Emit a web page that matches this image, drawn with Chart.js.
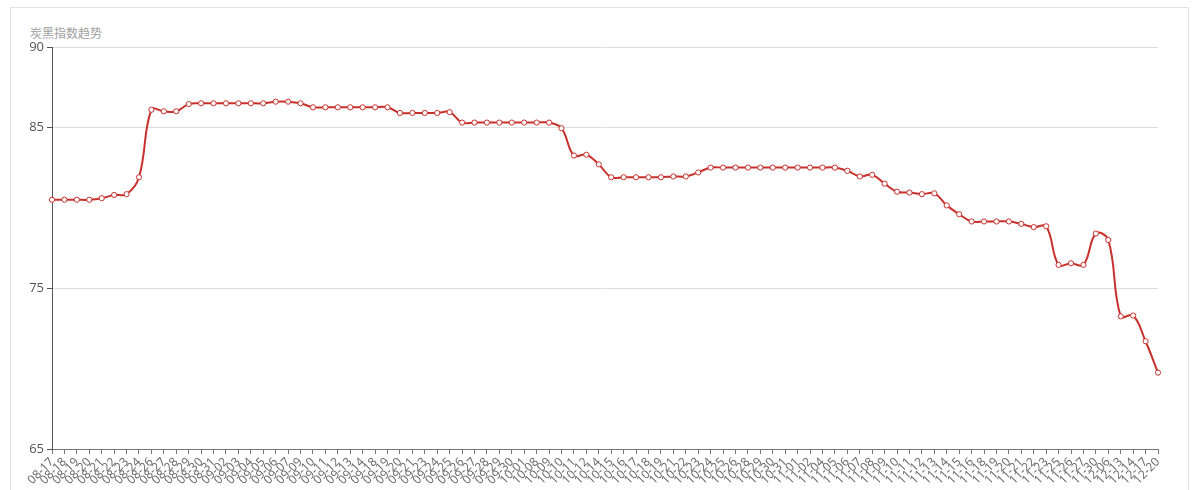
<!DOCTYPE html>
<html>
<head>
<meta charset="utf-8">
<script src="https://cdn.jsdelivr.net/npm/chart.js@4/dist/chart.umd.min.js"></script>
<style>
  html, body { margin: 0; padding: 0; background: #fff; }
  #wrap { position: relative; width: 1200px; height: 490px; overflow: hidden; }
  #frame { position: absolute; left: 10px; top: 7px; width: 1179px; height: 520px; border: 1px solid #e3e3e3; box-sizing: border-box; }
  #title { position: absolute; left: 30px; top: 24px; font: 12px "Noto Sans CJK SC", "Noto Sans", sans-serif; color: #a0a0a0; }
  canvas { position: absolute; left: 0; top: 0; }
</style>
</head>
<body>
<div id="wrap">
  <div id="frame"></div>
  <div id="title">炭黑指数趋势</div>
  <canvas id="c" width="1200" height="490"></canvas>
</div>
<script>
const dates = ['08-17','08-18','08-19','08-20','08-21','08-22','08-23','08-24','08-26','08-27','08-28','08-29','08-30','08-31','09-02','09-03','09-04','09-05','09-06','09-07','09-09','09-10','09-11','09-12','09-13','09-14','09-18','09-19','09-20','09-21','09-23','09-24','09-25','09-26','09-27','09-28','09-29','09-30','10-01','10-08','10-09','10-10','10-11','10-12','10-14','10-15','10-16','10-17','10-18','10-19','10-21','10-22','10-23','10-24','10-25','10-26','10-28','10-29','10-30','10-31','11-01','11-02','11-04','11-05','11-06','11-07','11-08','11-09','11-10','11-11','11-12','11-13','11-14','11-15','11-16','11-18','11-19','11-20','11-21','11-22','11-23','11-25','11-26','11-27','11-30','12-06','12-13','12-14','12-17','12-20'];

const carbonIndex = [
  80.5,80.5,80.5,80.5,80.6,80.8,80.85,81.9,86.1,86.0,
  86.0,86.45,86.5,86.5,86.5,86.5,86.5,86.5,86.6,86.6,
  86.5,86.25,86.25,86.25,86.25,86.25,86.25,86.25,85.9,85.9,
  85.9,85.9,85.95,85.3,85.3,85.3,85.3,85.3,85.3,85.3,
  85.3,84.95,83.25,83.3,82.7,81.9,81.9,81.9,81.9,81.9,
  81.95,81.95,82.2,82.5,82.5,82.5,82.5,82.5,82.5,82.5,
  82.5,82.5,82.5,82.5,82.3,81.95,82.05,81.5,81.0,80.95,
  80.85,80.9,80.15,79.6,79.15,79.15,79.15,79.15,79.0,78.8,
  78.85,76.45,76.55,76.45,78.4,78.0,73.25,73.3,71.7,69.75
];

const yTicks = [65, 75, 85, 90];
const yMin = 65, yMax = 90;

new Chart(document.getElementById('c'), {
  type: 'line',
  data: {
    labels: dates,
    datasets: [{
      label: '炭黑指数',
      data: carbonIndex,
      borderColor: '#c8302c',
      borderWidth: 2,
      tension: 0.4,
      pointRadius: 2.6,
      pointBorderWidth: 1,
      pointBackgroundColor: '#ffffff',
      pointBorderColor: '#c8302c',
      fill: false
    }]
  },
  options: {
    responsive: false,
    animation: false,
    layout: { padding: { top: 47, right: 42, bottom: 0, left: 0 } },
    plugins: { legend: { display: false }, tooltip: { enabled: false }, title: { display: false } },
    scales: {
      x: {
        offset: false,
        grid: { display: true, drawOnChartArea: false, drawTicks: true, tickLength: 5, tickColor: '#777' },
        border: { display: true, color: '#777', width: 1 },
        ticks: {
          autoSkip: false, minRotation: 45, maxRotation: 45, padding: 1,
          color: '#666', font: { family: '"Open Sans", "Noto Sans", sans-serif', size: 12 }
        },
        afterFit(scale) { scale.height = 41; scale.paddingLeft = 0; scale.paddingRight = 0; }
      },
      y: {
        min: yMin, max: yMax,
        afterBuildTicks(scale) { scale.ticks = yTicks.map(v => ({ value: v })); },
        grid: { color: '#dddddd', lineWidth: 1, drawTicks: true, tickLength: 5, tickColor: '#555' },
        border: { display: true, color: '#555', width: 1 },
        ticks: { color: '#555', padding: 3, font: { family: '"Open Sans", "Noto Sans", sans-serif', size: 13 } },
        afterFit(scale) { scale.width = 52; }
      }
    }
  }
});
</script>
</body>
</html>
